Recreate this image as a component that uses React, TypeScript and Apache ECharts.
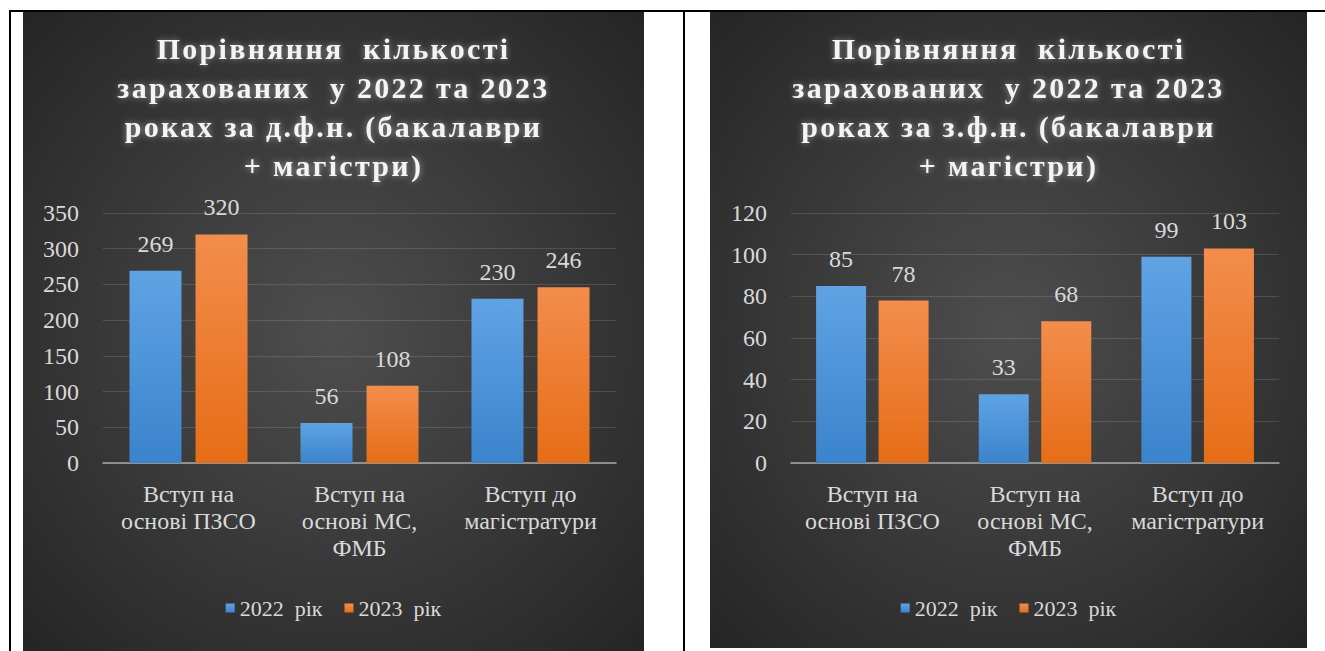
import React, { useEffect, useRef } from "react";
import * as echarts from "echarts";

const categories = ["Вступ на\nоснові ПЗСО", "Вступ на\nоснові МС,\nФМБ", "Вступ до\nмагістратури"];
const seriesNames = ["2022  рік", "2023  рік"];

const fullTimeTitle = "Порівняння  кількості\nзарахованих  у 2022 та 2023\nроках за д.ф.н. (бакалаври\n+ магістри)";
const fullTime2022 = [269, 56, 230];
const fullTime2023 = [320, 108, 246];
const fullTimeMax = 350;
const fullTimeStep = 50;

const partTimeTitle = "Порівняння  кількості\nзарахованих  у 2022 та 2023\nроках за з.ф.н. (бакалаври\n+ магістри)";
const partTime2022 = [85, 33, 99];
const partTime2023 = [78, 68, 103];
const partTimeMax = 120;
const partTimeStep = 20;

const FONT = "Liberation Serif";
const LABEL = "#d9d9d9";

type ChartProps = {
  title: string;
  a: number[];
  b: number[];
  max: number;
  step: number;
  gridLeft: number;
  gridWidth: number;
  barWidth: number;
  barGap: string;
  style: React.CSSProperties;
};

function BarChart(p: ChartProps) {
  const ref = useRef<HTMLDivElement>(null);
  useEffect(() => {
    if (!ref.current) return;
    const chart = echarts.init(ref.current, undefined, { renderer: "svg" });
    const blue = new echarts.graphic.LinearGradient(0, 0, 0, 1, [
      { offset: 0, color: "#5fa3e4" },
      { offset: 1, color: "#3b83cc" },
    ]);
    const orange = new echarts.graphic.LinearGradient(0, 0, 0, 1, [
      { offset: 0, color: "#f38d4c" },
      { offset: 1, color: "#e66d17" },
    ]);
    const labelOpt = {
      show: true,
      position: "top",
      distance: 15,
      color: LABEL,
      fontFamily: FONT,
      fontSize: 24,
    };
    chart.setOption({
      animation: false,
      backgroundColor: {
        type: "radial",
        x: 0.5,
        y: 0.5,
        r: 0.72,
        colorStops: [
          { offset: 0, color: "#4e4e4e" },
          { offset: 1, color: "#242424" },
        ],
      },
      textStyle: { fontFamily: FONT },
      title: {
        text: p.title,
        left: "center",
        top: 12,
        textStyle: {
          fontFamily: FONT,
          fontWeight: "bold",
          fontSize: 30,
          lineHeight: 39,
          color: "#f4f4f4",
          textShadowColor: "rgba(255,255,255,0.45)",
          textShadowBlur: 6,
        },
      },
      legend: {
        data: seriesNames,
        top: 580,
        left: "center",
        icon: "rect",
        itemWidth: 9,
        itemHeight: 9,
        itemGap: 22,
        textStyle: { color: LABEL, fontFamily: FONT, fontSize: 22 },
      },
      grid: { left: p.gridLeft, width: p.gridWidth, top: 201, height: 250 },
      xAxis: {
        type: "category",
        data: categories,
        axisLine: { lineStyle: { color: "#a8a8a8", width: 1.5 } },
        axisTick: { show: false },
        axisLabel: {
          interval: 0,
          color: LABEL,
          fontFamily: FONT,
          fontSize: 24,
          lineHeight: 27,
          margin: 17,
        },
      },
      yAxis: {
        type: "value",
        min: 0,
        max: p.max,
        interval: p.step,
        axisLine: { show: false },
        axisTick: { show: false },
        splitLine: { lineStyle: { color: "rgba(255,255,255,0.13)", width: 1 } },
        axisLabel: { color: LABEL, fontFamily: FONT, fontSize: 24, margin: 24 },
      },
      series: [
        {
          name: seriesNames[0],
          type: "bar",
          data: p.a,
          barWidth: p.barWidth,
          barGap: p.barGap,
          itemStyle: { color: blue },
          label: labelOpt,
        },
        {
          name: seriesNames[1],
          type: "bar",
          data: p.b,
          barWidth: p.barWidth,
          barGap: p.barGap,
          itemStyle: { color: orange },
          label: labelOpt,
        },
      ],
    });
    return () => chart.dispose();
  }, []);
  return <div ref={ref} style={p.style} />;
}

export default function App() {
  return (
    <div
      style={{
        position: "fixed",
        left: 0,
        top: 0,
        width: 1325,
        height: 651,
        background: "#ffffff",
        overflow: "hidden",
      }}
    >
      <style>{"svg text[style*='bold'], svg text[font-weight='bold'] { letter-spacing: 2.3px; }"}</style>
      <div style={{ position: "absolute", left: 9, top: 10, width: 1316, height: 2, background: "#000" }} />
      <div style={{ position: "absolute", left: 9, top: 10, width: 2, height: 641, background: "#000" }} />
      <div style={{ position: "absolute", left: 683, top: 10, width: 2, height: 641, background: "#000" }} />
      <BarChart
        title={fullTimeTitle}
        a={fullTime2022}
        b={fullTime2023}
        max={fullTimeMax}
        step={fullTimeStep}
        gridLeft={80}
        gridWidth={513}
        barWidth={52}
        barGap="27%"
        style={{ position: "absolute", left: 23, top: 12, width: 621, height: 639 }}
      />
      <BarChart
        title={partTimeTitle}
        a={partTime2022}
        b={partTime2023}
        max={partTimeMax}
        step={partTimeStep}
        gridLeft={81}
        gridWidth={488}
        barWidth={50}
        barGap="25%"
        style={{ position: "absolute", left: 710, top: 12, width: 597, height: 636 }}
      />
    </div>
  );
}
